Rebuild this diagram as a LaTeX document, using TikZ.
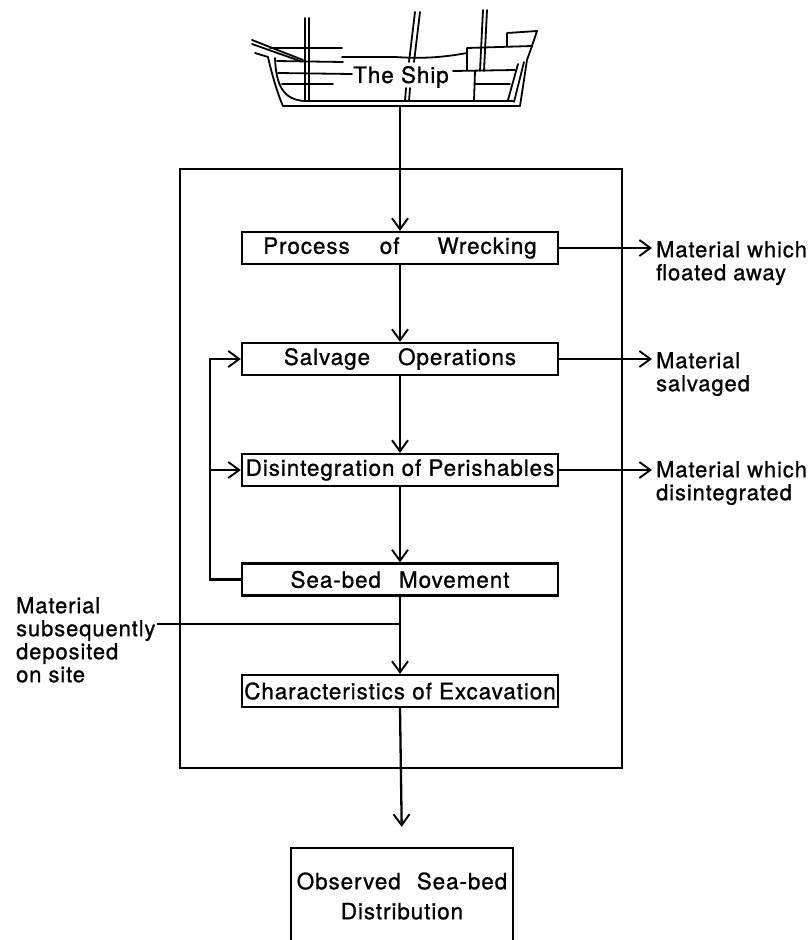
\documentclass[tikz,border=0pt]{standalone}
\usepackage{fontspec}
\setmainfont{TeX Gyre Heros}[LetterSpace=4,FakeBold=0.9]
\usetikzlibrary{arrows.meta}
\newcommand\lblfont{\fontsize{22pt}{23pt}\selectfont}
\newcommand\boxfont{\fontsize{22.5pt}{23pt}\selectfont}
\newcommand\obsfont{\fontsize{22.5pt}{30pt}\selectfont}
\begin{document}
\begin{tikzpicture}[x=1pt,y=-1pt,line width=2.3pt,
  tip/.style={-{Straight Barb[length=11pt,width=16pt,line width=1.9pt]}},
  stage/.style={draw,minimum width=316pt,minimum height=32pt,inner sep=0pt,font=\boxfont},
  lbl/.style={anchor=north west,align=left,inner sep=0pt,font=\lblfont},
  shipline/.style={line width=1.8pt,line cap=round,line join=round}]
\useasboundingbox (0,0) rectangle (811,940);

% ---- the ship ----
\begin{scope}[shipline]
  % bowsprit
  \draw (252,40) -- (303,60);
  \draw (252,44) -- (300,61);
  \draw (255,53) -- (268,57);
  % hull
  \draw (268,57) .. controls (272,75) and (278,95) .. (283,106) -- (520,106);
  \draw (275,58) .. controls (276,85) and (283,100) .. (305,101) -- (514,101);
  % foremast
  \draw (305,18) -- (305,101);
  \draw (309,18) -- (309,101);
  % left deck lines
  \draw (270,48) -- (342,48);
  \draw (277,61) -- (343,62);
  \draw (278,73) -- (352,74);
  \draw (282,84) -- (333,84);
  % main deck line
  \draw (342,57) -- (395,57) .. controls (425,59) and (445,57) .. (467,53);
  % mainmast
  \draw (415,12) -- (409,62);
  \draw (420,12) -- (414,62);
  \draw (406,88) -- (405,101);
  \draw (410,88) -- (409,101);
  % mizzenmast
  \draw (483,10) -- (480,71);
  \draw (487,10) -- (484,71);
  % stern castle
  \draw (467,70) -- (467,48) -- (532,46);
  \draw (507,46) -- (507,33) -- (537,31) -- (532,46);
  \draw (453,71) -- (515,70);
  \draw (475,71) -- (474,101);
  \draw (475,84) -- (510,84);
  % stern
  \draw (532,46) -- (527,60) -- (520,106);
  \draw (524,62) -- (514,102);
  \draw (518,64) -- (508,100);
\end{scope}
\node[inner sep=1pt,font=\boxfont] (ship) at (401,77) {The Ship};
\coordinate (hull) at (400,106);

% ---- frame ----
\node[draw,minimum width=442pt,minimum height=599pt,inner sep=0pt] (frame) at (401,468.5) {};

% ---- stages ----
\node[stage] (pw) at (400,248) {Process\hspace{30pt}of\hspace{38pt}Wrecking};
\node[stage] (so) at (400,359) {Salvage\hspace{28pt}Operations};
\node[stage] (dp) at (400,470) {Disintegration of Perishables};
\node[stage] (sm) at (400,579.5) {Sea-bed\hspace{18pt}Movement};
\node[stage] (ce) at (400,691) {Characteristics of Excavation};
\node[draw,minimum width=222pt,minimum height=96pt,inner sep=0pt,align=center,font=\obsfont] (obs) at (402,896) {Observed\hspace{16pt}Sea-bed\\Distribution};

% ---- side labels ----
\node[lbl] (fa) at (655,240) {Material which\\floated away};
\node[lbl] (sa) at (655,351) {Material\\salvaged};
\node[lbl] (di) at (655,460) {Material which\\disintegrated};
\node[lbl] (sub) at (15,596) {Material\\subsequently\\deposited\\on site};

% ---- connectors ----
\draw[tip] (hull) -- (pw.north);
\draw[tip] (pw.south) -- (so.north);
\draw[tip] (so.south) -- (dp.north);
\draw[tip] (dp.south) -- (sm.north);
\draw[tip] (sm.south) -- coordinate[pos=0.35] (jn) (ce.north);
\draw[tip,shorten >=20pt] (ce.south) -- (obs.north);

\draw[tip,shorten >=3pt] (pw.east) -- (pw.east -| fa.west);
\draw[tip,shorten >=3pt] (so.east) -- (so.east -| sa.west);
\draw[tip,shorten >=3pt] (dp.east) -- (dp.east -| di.west);

\coordinate (lx) at (210,0);
\draw[tip] (sm.west) -- (sm.west -| lx) |- (so.west);
\draw[tip] (dp.west -| lx) -- (dp.west);

\draw (sub.east |- jn) -- (jn);
\end{tikzpicture}
\end{document}
